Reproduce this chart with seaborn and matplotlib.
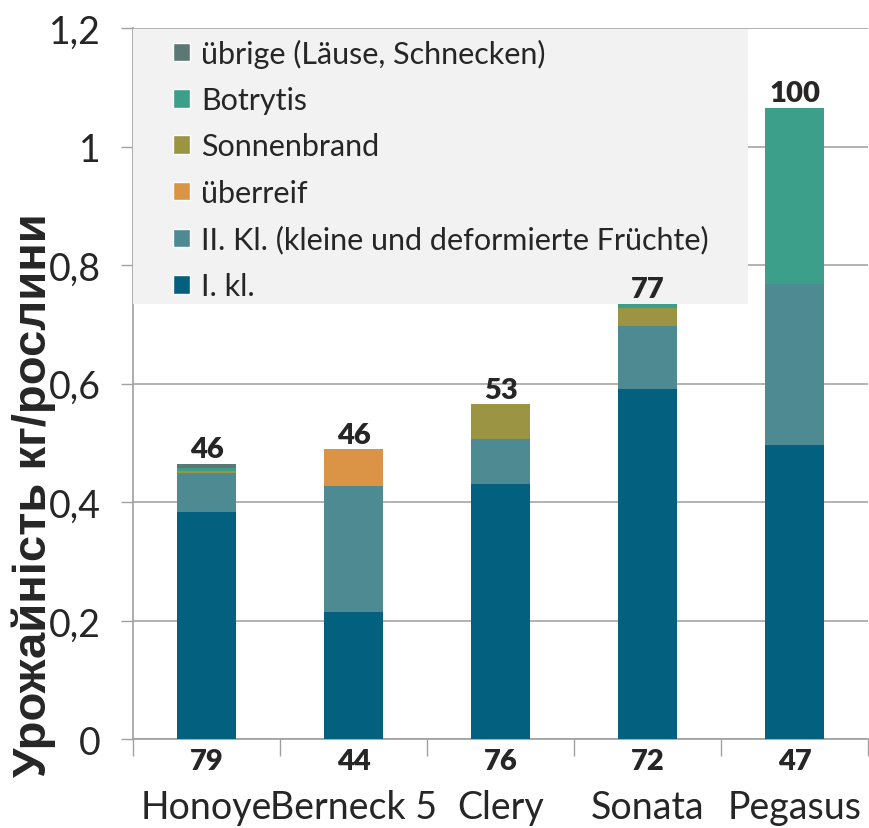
import numpy as np
import pandas as pd
import seaborn as sns
import matplotlib.pyplot as plt
from matplotlib.patches import Patch, Rectangle
from matplotlib.transforms import blended_transform_factory

# Daten
sorten = ['Honoye', 'Berneck 5', 'Clery', 'Sonata', 'Pegasus']
kl1 = [0.383, 0.214, 0.430, 0.591, 0.496]
kl2 = [0.066, 0.213, 0.076, 0.106, 0.272]
ueberreif = [0.0, 0.062, 0.0, 0.0, 0.0]
sonnenbrand = [0.004, 0.0, 0.059, 0.030, 0.0]
botrytis = [0.005, 0.0, 0.0, 0.007, 0.297]
uebrige = [0.007, 0.0, 0.0, 0.0, 0.0]
top_labels = ['46', '46', '53', '77', '100']
bottom_labels = ['79', '44', '76', '72', '47']

layers = ['I. kl.', 'II. Kl. (kleine und deformierte Früchte)', 'überreif',
          'Sonnenbrand', 'Botrytis', 'übrige (Läuse, Schnecken)']
values = [kl1, kl2, ueberreif, sonnenbrand, botrytis, uebrige]
colors = ['#03607e', '#4e8a91', '#db9446', '#9a9443', '#3c9f8a', '#5b7874']

df = pd.DataFrame({'Sorte': sorten})
for name, v in zip(layers, values):
    df[name] = v
cum = df[layers].cumsum(axis=1)
cum['Sorte'] = sorten

sns.set_style('white')
plt.rcParams['font.family'] = ['Lato', 'DejaVu Sans']

fig = plt.figure(figsize=(8.69, 8.29), dpi=100)
ax = fig.add_axes([0.153, 0.107, 0.846, 0.858])

# gestapelte Balken: kumulierte Summen von oben nach unten zeichnen
for name, col in reversed(list(zip(layers, colors))):
    sns.barplot(data=cum, x='Sorte', y=name, color=col, width=0.4,
                saturation=1, ax=ax, zorder=3, edgecolor='none')

totals = cum[layers[-1]].values
for i, (t, lab) in enumerate(zip(totals, top_labels)):
    ax.text(i, t + 0.003, lab, ha='center', va='bottom', fontsize=21,
            fontweight='heavy', zorder=10)

trans = blended_transform_factory(ax.transData, ax.transAxes)
for i, lab in enumerate(bottom_labels):
    ax.text(i, -0.012, lab, ha='center', va='top', fontsize=21,
            fontweight='heavy', transform=trans, clip_on=False)

ax.set_ylim(0, 1.2)
ax.set_xlim(-0.5, 4.5)
ax.set_yticks([0, 0.2, 0.4, 0.6, 0.8, 1.0, 1.2])
ax.set_yticklabels(['0', '0,2', '0,4', '0,6', '0,8', '1', '1,2'], fontsize=27)
ax.set_xticks(range(5))
ax.set_xticklabels(sorten, fontsize=27)
ax.tick_params(axis='x', which='major', length=0, pad=36)
ax.tick_params(axis='y', length=9, width=1, color='#a0a0a0', pad=14, left=True)
ax.set_xticks(np.arange(-0.5, 5, 1), minor=True)
ax.tick_params(axis='x', which='minor', length=12, color='#a0a0a0', width=1,
               bottom=True)
ax.yaxis.grid(True, color='#a6a6a6', linewidth=1.2, zorder=0)
ax.set_axisbelow(True)
for s in ['top', 'right']:
    ax.spines[s].set_visible(False)
for s in ['left', 'bottom']:
    ax.spines[s].set_color('#a0a0a0')
    ax.spines[s].set_linewidth(1.2)

ax.set_xlabel('')
ax.set_ylabel('Урожайність кг/рослини', fontsize=34, fontweight='bold',
              family=['Liberation Sans', 'DejaVu Sans'])
ax.yaxis.set_label_coords(-0.104, 0.345)

# grauer Legendenhintergrund
ax.add_patch(Rectangle((0.0, 0.612), 0.837, 0.386, transform=ax.transAxes,
                       facecolor='#f2f2f2', edgecolor='none', zorder=4))

handles = [Patch(facecolor=c, label=l) for l, c in zip(layers, colors)]
leg = ax.legend(handles=handles[::-1], loc='upper left',
                bbox_to_anchor=(0.055, 0.985), fontsize=22, frameon=False,
                handlelength=0.55, handleheight=0.55, handletextpad=0.35,
                labelspacing=0.6, borderpad=0, borderaxespad=0)
leg.set_zorder(5)

fig.savefig('out.png', dpi=100)
